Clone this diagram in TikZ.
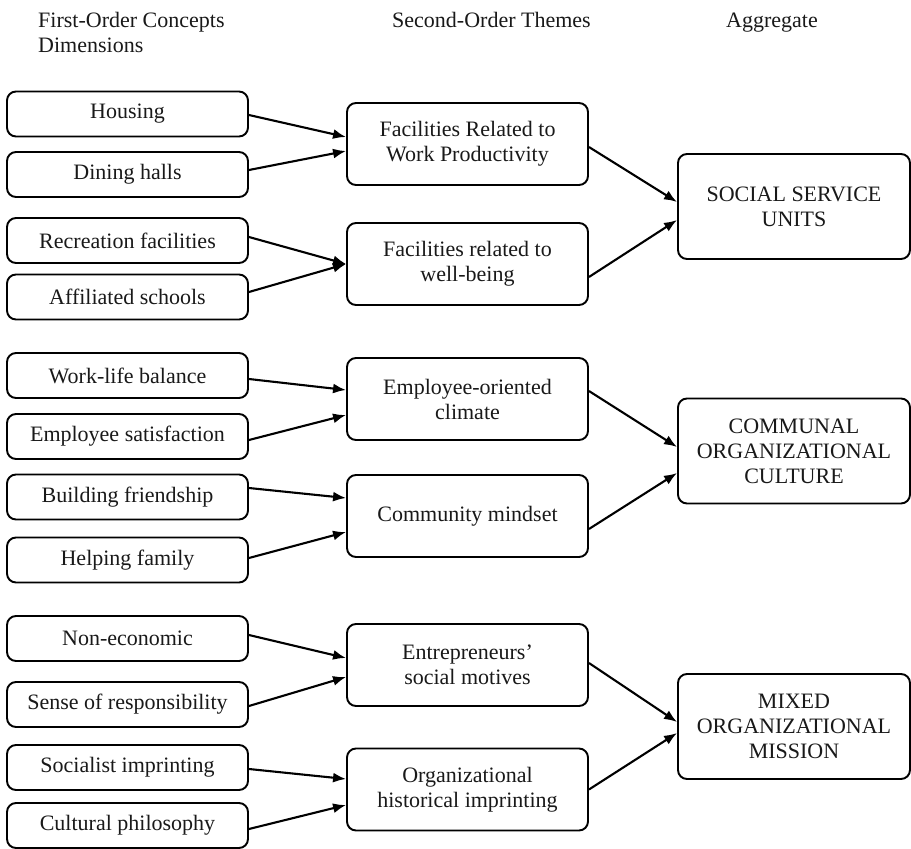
\documentclass[tikz,border=0pt]{standalone}
\usepackage{fontspec}
\setmainfont{Liberation Serif}
\usetikzlibrary{calc,arrows.meta}
\begin{document}
\begin{tikzpicture}[x=1pt,y=-1pt,
  base/.style={draw, line width=1.9pt, rounded corners=9pt, inner sep=0pt, align=center,
    font=\fontsize{22}{25}\selectfont, text=black!90},
  lbox/.style={base, minimum width=241pt, minimum height=45pt},
  mbox/.style={base, minimum width=241pt, minimum height=82pt},
  rbox/.style={base, minimum width=232pt, minimum height=105pt},
  head/.style={anchor=base west, inner sep=0pt, font=\fontsize{22}{25}\selectfont, text=black!90},
  conn/.style={line width=2.1pt, -{Latex[length=13pt,width=10pt]}}]
\fill[white] (0,0) rectangle (911,849);
\useasboundingbox (0,0) rectangle (911,849);

% headers
\node[head] (h1) at (38,27) {First-Order Concepts};
\node[head] (h1b) at (38,52) {Dimensions};
\node[head] (h2) at (392,27) {Second-Order Themes};
\node[head] (h3) at (726,27) {Aggregate};

% left column
\node[lbox] (housing)    at (127.5,114)   {Housing};
\node[lbox] (dining)     at (127.5,174.5) {Dining halls};
\node[lbox] (recreation) at (127.5,240.5) {Recreation facilities};
\node[lbox] (affiliated) at (127.5,297)   {Affiliated schools};
\node[lbox] (worklife)   at (127.5,375.5) {Work-life balance};
\node[lbox] (empsat)     at (127.5,436.5) {Employee satisfaction};
\node[lbox] (building)   at (127.5,497)   {Building friendship};
\node[lbox] (helping)    at (127.5,560)   {Helping family};
\node[lbox] (noneco)     at (127.5,638.5) {Non-economic};
\node[lbox] (sense)      at (127.5,704.5) {Sense of responsibility};
\node[lbox] (socialist)  at (127.5,767.5) {Socialist imprinting};
\node[lbox] (cultural)   at (127.5,825.5) {Cultural philosophy};

% middle column
\node[mbox] (fwp) at (467.5,144)   {Facilities Related to\\Work Productivity};
\node[mbox] (fwb) at (467.5,264)   {Facilities related to\\well-being};
\node[mbox] (eoc) at (467.5,399)   {Employee-oriented\\climate};
\node[mbox] (cm)  at (467.5,516)   {Community mindset};
\node[mbox] (esm) at (467.5,665)   {Entrepreneurs’\\social motives};
\node[mbox] (ohi) at (467.5,789.5) {Organizational\\historical imprinting};

% right column
\node[rbox] (ssu) at (794,206.5) {SOCIAL SERVICE\\UNITS};
\node[rbox] (coc) at (794,451)   {COMMUNAL\\ORGANIZATIONAL\\CULTURE};
\node[rbox] (mom) at (794,726.5) {MIXED\\ORGANIZATIONAL\\MISSION};

% left connectors
\draw[conn] ($(housing.east)+(0,1)$)      -- ($(fwp.west)+(0,-7)$);
\draw[conn] ($(dining.east)+(0,-4.5)$)    -- ($(fwp.west)+(0,7)$);
\draw[conn] ($(recreation.east)+(0,-3.5)$) -- ($(fwb.west)+(0,0)$);
\draw[conn] ($(affiliated.east)+(0,-5)$)  -- ($(fwb.west)+(0,0)$);
\draw[conn] ($(worklife.east)+(0,3.5)$)   -- ($(eoc.west)+(0,-9)$);
\draw[conn] ($(empsat.east)+(0,3.5)$)     -- ($(eoc.west)+(0,16)$);
\draw[conn] ($(building.east)+(0,-9)$)    -- ($(cm.west)+(0,-18)$);
\draw[conn] ($(helping.east)+(0,-2)$)     -- ($(cm.west)+(0,16)$);
\draw[conn] ($(noneco.east)+(0,-3.5)$)    -- ($(esm.west)+(0,-7)$);
\draw[conn] ($(sense.east)+(0,1.5)$)      -- ($(esm.west)+(0,12)$);
\draw[conn] ($(socialist.east)+(0,1.5)$)  -- ($(ohi.west)+(0,-10.5)$);
\draw[conn] ($(cultural.east)+(0,3.5)$)   -- ($(ohi.west)+(0,15.5)$);

% right connectors
\draw[conn] ($(fwp.east)+(0,3)$)   -- ($(ssu.west)+(0,-4.5)$);
\draw[conn] ($(fwb.east)+(0,13)$)  -- ($(ssu.west)+(0,13.5)$);
\draw[conn] ($(eoc.east)+(0,-8)$)  -- ($(coc.west)+(0,-4)$);
\draw[conn] ($(cm.east)+(0,13)$)   -- ($(coc.west)+(0,22)$);
\draw[conn] ($(esm.east)+(0,-2)$)  -- ($(mom.west)+(0,-4.5)$);
\draw[conn] ($(ohi.east)+(0,0)$)   -- ($(mom.west)+(0,6.5)$);
\end{tikzpicture}
\end{document}
